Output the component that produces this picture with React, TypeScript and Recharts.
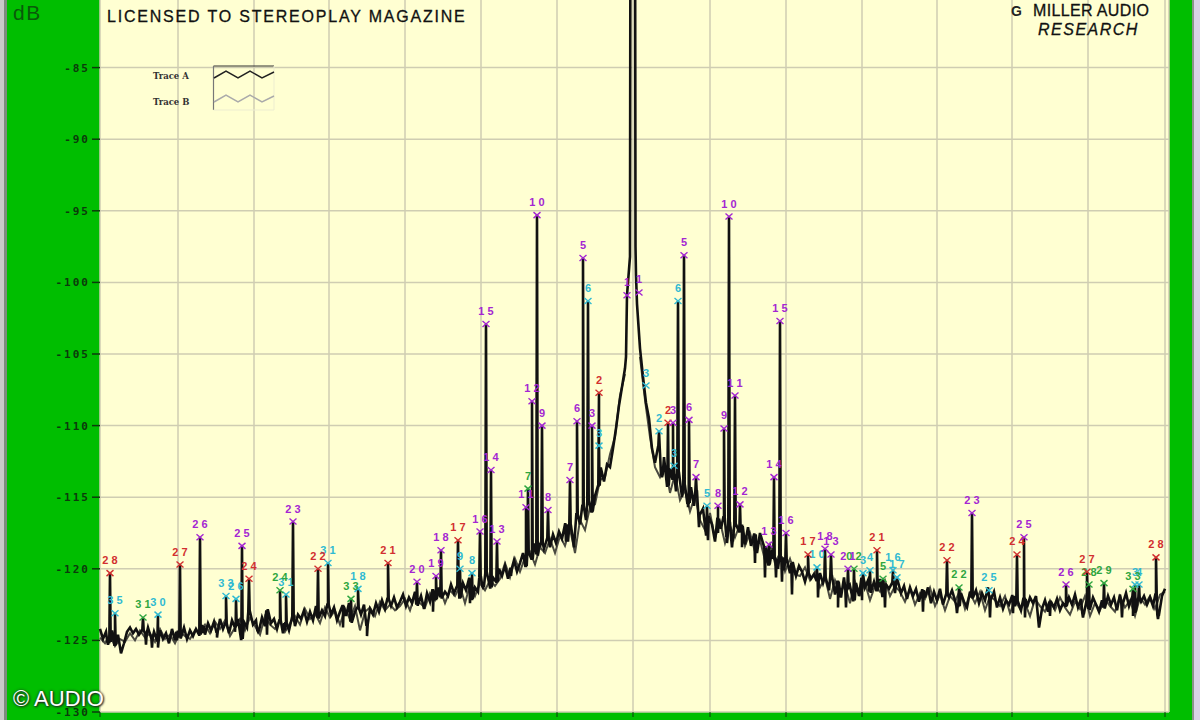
import {
  CartesianGrid,
  ComposedChart,
  Line,
  Scatter,
  XAxis,
  YAxis,
} from "recharts";

const GREEN = "#00BE00";
const PLOT = "#FFFFD2";
const GRID = "#CFCDB2";
const INK = "#0C3A0C";
const PURPLE = "#A426D2";
const RED = "#D22F2F";
const CYAN = "#2FBAD2";
const LEAF = "#2FA640";

const dbTicks = [-130, -125, -120, -115, -110, -105, -100, -95, -90, -85, -80];
const binTicks = [0, 78, 154, 229, 305, 381, 457, 533, 610, 686, 762, 837, 912, 988, 1065];

// noise floor, one reading every 3 bins, bin 0 to 525
const leftFloor = [
  -124.2, -124.9, -124.4, -125.1, -124.3, -125.3, -124.6, -125.9, -125.2, -124.4, -124.1, -124.5, -124.2, -124.6, -124.3, -124.5, -124.1,
  -124.8, -124.4, -125.0, -124.3, -124.9, -124.5, -125.2, -124.2, -125.0, -124.4, -124.8, -124.1, -124.9, -124.3, -124.7, -124.2, -124.6,
  -124.0, -124.6, -123.8, -124.3, -123.7, -124.4, -123.5, -124.2, -123.8, -124.5, -123.6, -124.0, -123.5, -124.9, -123.7, -124.1, -123.0,
  -123.9, -123.6, -124.3, -123.4, -124.0, -122.9, -123.8, -123.5, -124.2, -123.6, -124.5, -123.8, -124.3, -123.4, -124.0, -123.2,
  -123.5, -122.9, -123.7, -123.0, -123.6, -122.6, -123.4, -122.9, -123.3, -122.5, -123.2, -122.7, -123.6, -123.0, -122.6, -123.3, -122.4,
  -123.7, -123.0, -122.7, -123.2, -122.5, -123.9, -122.8, -123.2, -122.4, -123.0, -122.2, -122.8, -122.1, -122.6, -122.0, -122.7,
  -122.3, -121.8, -122.6, -122.0, -122.4, -121.6, -122.5, -121.9, -122.8, -121.7, -122.3, -121.5, -122.1, -121.3, -122.0, -121.6, -121.9,
  -121.1, -121.7, -121.2, -122.0, -121.0, -121.5, -120.7, -122.1, -121.3, -121.6, -120.6, -121.2, -120.3, -121.3, -120.6, -120.9,
  -120.0, -120.5, -119.8, -120.7, -120.0, -119.4, -120.2, -119.6, -118.9, -119.8, -118.9, -119.3, -118.3, -119.0, -118.2, -118.6, -117.9,
  -118.5, -117.6, -118.2, -117.4, -117.9, -116.9, -118.1, -117.0, -118.5, -116.2, -116.9, -115.6, -116.6, -115.3, -116.0, -114.9,
  -114.2, -113.0, -113.9, -112.7, -112.9, -111.6, -110.2, -108.6, -107.3, -106.0,
];

// carrier and its skirt
const carrierBins = [526, 527, 530, 530.5, 535, 535.5, 536];
const carrierDb = [-105.2, -100.9, -98.2, -70, -70, -97.5, -99.5];

// noise floor, one reading every 3 bins, bin 537 to 1065
const rightFloor = [
  -101.5, -104.6, -106.6, -108.4, -109.5, -111.6, -112.6, -111.5, -113.4, -112.2, -114.2, -113.0, -113.7, -114.6, -113.3, -115.0, -114.2,
  -115.4, -114.3, -115.6, -114.6,
  -116.2, -115.8, -117.6, -116.4, -116.9, -118.1, -116.5, -117.2, -116.4, -117.7, -116.8, -118.0, -116.9, -117.4, -117.0, -118.3, -117.1,
  -118.4, -117.6, -118.9, -117.5, -118.2, -118.5, -119.7, -118.7, -119.3, -120.0, -119.2, -120.1, -119.4, -120.3, -119.6, -120.5, -119.8,
  -120.2, -120.9, -120.3, -120.7, -120.4, -120.8, -120.3, -121.0, -120.7, -121.5, -120.5, -121.8, -120.9, -122.0, -120.6, -121.4, -121.2,
  -122.2, -121.0, -121.9, -120.7, -121.3, -120.8, -121.6, -120.9, -121.5, -120.7, -121.9, -121.1, -121.4, -121.0, -121.7, -120.9,
  -121.7, -121.2, -122.1, -121.3, -121.9, -121.4, -122.3, -121.5, -122.0, -121.3, -122.4, -121.6, -122.2, -121.4, -122.5, -121.8, -122.0,
  -121.5, -122.2, -122.6, -121.7, -122.3, -122.7, -121.6, -122.0, -121.5, -122.4, -121.7, -122.2, -121.3, -122.1, -121.6, -122.7,
  -122.0, -122.8, -122.2, -122.5, -121.9, -122.6, -122.3, -122.9, -122.1, -122.7, -122.0, -122.4, -121.9, -124.1, -122.8, -122.2, -123.0,
  -122.3, -122.7, -122.1, -122.9, -122.4, -122.6, -122.0, -122.5, -121.8, -122.7, -122.1, -123.1, -122.3, -122.8, -122.0, -122.5,
  -123.0, -122.2, -122.7, -121.9, -122.5, -122.0, -122.9, -121.8, -122.4, -121.7, -122.6, -122.0, -123.0, -122.1, -122.3, -121.9, -122.5,
  -122.0, -122.6, -121.8, -123.2, -121.9, -121.4,
];

// deepest dips of trace A
const dipBins = [
  8, 46, 52, 58, 77, 103, 117, 135, 158, 167, 185, 243, 267, 333, 370, 383, 411, 435, 440, 466, 479, 500,
  555, 562, 575, 588, 599, 608, 618, 627, 632, 642, 655, 665, 676, 682, 692, 718, 738, 746, 762, 785, 823,
  857, 890, 913, 925, 950, 983, 1022, 1033, 1058,
];
const dipDb = [
  -125.3, -125.3, -125.5, -125.5, -125.0, -124.5, -124.8, -124.4, -124.4, -124.6, -124.3, -124.1, -124.7, -123.0, -122.4, -121.3, -120.5, -118.5, -118.5, -118.1, -115.7, -113.8,
  -112.4, -113.6, -114.3, -115.7, -117.1, -118.0, -117.5, -118.2, -118.5, -118.5, -119.6, -120.6, -120.6, -120.9, -121.8, -122.0, -122.7, -122.7, -122.2, -122.7, -123.0,
  -123.1, -123.4, -123.1, -123.4, -123.3, -123.4, -123.4, -123.3, -123.5,
];

// trace B, mostly hidden under trace A, one reading every 5 bins
const traceBLeft = [
  -124.8, -125.2, -124.6, -125.4, -124.9, -125.1, -124.5, -125.0, -124.3, -124.8, -124.5, -125.1, -124.2, -124.9, -124.6, -125.2, -124.4, -124.7, -124.9, -124.3,
  -124.4, -123.9, -124.5, -123.7, -124.2, -123.6, -124.7, -124.1, -123.5, -124.3, -123.4, -124.0, -124.6, -123.3, -123.9, -124.2, -123.6, -124.4, -123.8, -123.3,
  -123.9, -122.8, -123.5, -123.1, -123.8, -122.7, -123.4, -122.9, -123.9, -122.8, -123.5, -122.6, -124.3, -123.0, -122.7, -123.3, -122.3, -122.9, -122.5, -122.9,
  -122.6, -122.1, -122.9, -121.8, -122.4, -122.7, -121.7, -122.2, -121.4, -122.4, -121.5, -121.9, -121.2, -122.4, -121.1, -121.9, -121.0, -121.5, -120.8, -121.2,
  -120.7, -119.6, -120.6, -119.3, -120.2, -119.2, -118.8, -119.7, -118.5, -118.9, -117.9, -118.9, -117.7, -118.4, -117.2, -118.9, -116.6, -117.3, -115.7, -115.5,
  -113.8, -113.6, -112.0, -110.8, -107.9, -106.4,
];
const traceBRight = [
  -105.2, -108.2, -110.8, -112.9, -113.6, -112.8, -114.7, -113.4, -115.2, -114.5, -116.0, -114.9,
  -116.6, -117.3, -116.1, -117.9, -116.7, -118.2, -117.0, -117.8, -116.9, -118.4, -117.5, -118.8, -118.0, -119.4, -118.3, -119.6, -118.9, -120.2, -119.3, -120.4,
  -120.5, -119.9, -120.8, -120.2, -121.3, -120.6, -122.1, -120.8, -121.7, -121.1, -122.4, -120.9, -121.8, -121.0, -122.2, -121.2, -121.6, -120.8, -121.9, -121.2,
  -121.6, -122.3, -121.4, -122.5, -121.7, -122.1, -121.3, -122.6, -121.8, -122.9, -121.9, -122.3, -121.5, -122.8, -121.7, -122.4, -121.6, -122.9, -121.9, -122.2,
  -122.6, -121.9, -123.1, -122.2, -122.8, -122.4, -123.3, -122.1, -122.6, -123.0, -122.2, -122.9, -122.0, -122.7, -123.2, -122.3, -122.8, -121.9, -123.3, -122.4,
  -122.9, -122.1, -122.6, -123.0, -121.9, -122.7, -122.2, -123.3, -122.0, -122.5, -121.9, -122.8, -121.8, -121.6,
];

type Mark = [number, number, string];

const purpleMarks: Mark[] = [
  [100, -117.8, "2 6"], [142, -118.4, "2 5"], [193, -116.7, "2 3"], [317, -120.9, "2 0"], [336, -120.5, "1 9"],
  [341, -118.7, "1 8"], [380, -117.4, "1 6"], [386, -102.9, "1 5"], [391, -113.1, "1 4"], [397, -118.1, "1 3"],
  [426, -115.7, "1 1"], [432, -108.3, "1 2"], [437, -95.3, "1 0"], [442, -110.0, "9"], [448, -115.9, "8"],
  [470, -113.8, "7"], [477, -109.7, "6"], [483, -98.3, "5"], [492, -110.0, "3"], [527, -100.9, "1"],
  [539, -100.7, "1"], [573, -109.8, "3"], [584, -98.1, "5"], [589, -109.6, "6"], [596, -113.6, "7"],
  [618, -115.6, "8"], [624, -110.2, "9"], [629, -95.4, "1 0"], [635, -107.9, "1 1"], [640, -115.5, "1 2"],
  [669, -118.3, "1 3"], [674, -113.6, "1 4"], [680, -102.7, "1 5"], [686, -117.5, "1 6"], [725, -118.6, "1 8"],
  [731, -119.0, "1 3"], [748, -120.0, "2 1"], [872, -116.1, "2 3"], [924, -117.8, "2 5"], [966, -121.1, "2 6"],
];

const redMarks: Mark[] = [
  [10, -120.3, "2 8"], [80, -119.7, "2 7"], [149, -120.7, "2 4"], [218, -120.0, "2 2"], [288, -119.6, "2 1"],
  [358, -118.0, "1 7"], [499, -107.7, "2"], [568, -109.8, "2"], [708, -119.0, "1 7"], [777, -118.7, "2 1"],
  [847, -119.4, "2 2"], [917, -119.0, "2 4"], [987, -120.2, "2 7"], [1056, -119.2, "2 8"],
];

const cyanMarks: Mark[] = [
  [15, -123.1, "3 5"], [58, -123.2, "3 0"], [126, -121.9, "3 3"], [136, -122.1, "2 6"], [186, -121.8, "3 1"],
  [228, -119.6, "3 1"], [258, -121.4, "1 8"], [360, -120.0, "9"], [372, -120.3, "8"], [488, -101.3, "6"],
  [499, -111.4, "3"], [546, -107.2, "3"], [559, -110.4, "2"], [574, -112.8, "3"], [578, -101.3, "6"],
  [607, -115.6, "5"], [717, -119.9, "1 0"], [763, -120.3, "3"], [770, -120.1, "4"], [793, -120.1, "1 6"],
  [797, -120.6, "1 7"], [889, -121.5, "2 5"], [1035, -121.1, "3"], [1039, -121.1, "4"],
];

const greenMarks: Mark[] = [
  [43, -123.4, "3 1"], [180, -121.5, "2 4"], [251, -122.1, "3 3"], [428, -114.4, "7"], [754, -120.0, "0 2"],
  [783, -120.7, "5"], [859, -121.3, "2 2"], [989, -121.1, "2 8"], [1004, -121.0, "2 9"], [1033, -121.4, "3 3"],
];

const markGroups = [
  { color: CYAN, marks: cyanMarks },
  { color: LEAF, marks: greenMarks },
  { color: RED, marks: redMarks },
  { color: PURPLE, marks: purpleMarks },
];

const allMarks = [...purpleMarks, ...redMarks, ...cyanMarks, ...greenMarks];

function floorAt(bin: number) {
  if (bin < 533) return leftFloor[Math.min(Math.round(bin / 3), leftFloor.length - 1)];
  return rightFloor[Math.max(0, Math.round((bin - 537) / 3))];
}

// floor readings plus a narrow spike under every marker and at every dip
function buildTrace() {
  const rows: { bin: number; db: number }[] = [];
  const spike = (bin: number, db: number) => {
    const foot = floorAt(bin);
    rows.push({ bin: bin - 0.7, db: foot });
    rows.push({ bin, db });
    rows.push({ bin: bin + 0.7, db: foot });
  };
  leftFloor.forEach((db, i) => rows.push({ bin: i * 3, db }));
  carrierBins.forEach((bin, i) => rows.push({ bin, db: carrierDb[i] }));
  rightFloor.forEach((db, i) => rows.push({ bin: 537 + i * 3, db }));
  allMarks.forEach(([bin, db]) => {
    if (Math.abs(bin - 533) < 20) return;
    if (db > floorAt(bin)) spike(bin, db);
  });
  dipBins.forEach((bin, i) => {
    if (dipDb[i] < floorAt(bin)) spike(bin, dipDb[i]);
  });
  return rows.sort((a, b) => a.bin - b.bin);
}

const traceRows = buildTrace();

// gap at the carrier, trace B is not drawn across it
const traceBRows = [
  ...traceBLeft.map((db, i) => ({ bin: i * 5, db: db as number | null })),
  { bin: 533, db: null },
  ...traceBRight.map((db, i) => ({ bin: 540 + i * 5, db: db as number | null })),
];

function markRows(marks: Mark[]) {
  return marks.map(([bin, db, label]) => ({ bin, db, label }));
}

function MarkShape(props: any) {
  const { cx, cy, payload, color } = props;
  return (
    <g stroke={color} fill="none">
      <path d={`M${cx - 3.5} ${cy - 3}L${cx + 3.5} ${cy + 3}M${cx + 3.5} ${cy - 3}L${cx - 3.5} ${cy + 3}`} strokeWidth={1.4} />
      <text
        x={cx}
        y={cy - 9}
        textAnchor="middle"
        fill={color}
        stroke="none"
        fontFamily="Liberation Sans"
        fontWeight="bold"
        fontSize={11}
      >
        {payload.label}
      </text>
    </g>
  );
}

function TraceKey() {
  const text = {
    position: "absolute" as const,
    left: 153,
    fontFamily: "DejaVu Serif",
    fontWeight: "bold" as const,
    fontSize: 8.5,
    color: "#333",
    lineHeight: "10px",
  };
  return (
    <>
      <div style={{ ...text, top: 71 }}>Trace A</div>
      <div style={{ ...text, top: 97 }}>Trace B</div>
      <svg style={{ position: "absolute", left: 210, top: 64 }} width={68} height={48}>
        <path d="M3.5 2H64" stroke="#333" strokeWidth={1.2} fill="none" />
        <path d="M3.5 2V46" stroke="#777" strokeWidth={1.2} fill="none" />
        <path d="M3.5 46H64V2" stroke="#EDEDD0" strokeWidth={1} fill="none" />
        <path d="M4 14L16 7L28 14L40 7L52 14L64 8" stroke="#222" strokeWidth={1.5} fill="none" />
        <path d="M4 38L16 31L28 38L40 31L52 38L64 32" stroke="#AAA" strokeWidth={1.5} fill="none" />
      </svg>
    </>
  );
}

export default function App() {
  const overlay = { position: "absolute" as const, fontFamily: "Liberation Sans", whiteSpace: "nowrap" as const };
  return (
    <div style={{ position: "fixed", left: 0, top: 0, width: 1200, height: 720, overflow: "hidden", background: GREEN }}>
      <div style={{ position: "absolute", left: 0, top: -20 }}>
        <ComposedChart
          width={1200}
          height={740}
          data={traceRows}
          margin={{ top: 16, right: 31, bottom: 0, left: 0 }}
        >
          <CartesianGrid stroke={GRID} strokeWidth={1.5} fill={PLOT} fillOpacity={1} />
          <XAxis
            dataKey="bin"
            type="number"
            domain={[0, 1069]}
            ticks={binTicks}
            height={8}
            axisLine={false}
            tick={{ fontSize: 0 }}
            tickFormatter={() => ""}
            tickLine={{ stroke: INK }}
            tickSize={5}
            interval={0}
          />
          <YAxis
            type="number"
            domain={[-130, -80]}
            ticks={dbTicks}
            width={100}
            allowDataOverflow
            axisLine={false}
            tickLine={{ stroke: INK, strokeWidth: 1.5 }}
            tickSize={8}
            tickMargin={2}
            interval={0}
            tick={{
              fill: INK,
              fontFamily: "DejaVu Sans Mono",
              fontWeight: "bold",
              fontSize: 11,
              letterSpacing: 2,
            }}
          />
          <Line
            dataKey="db"
            type="linear"
            name="Trace B"
            data={traceBRows}
            stroke="#4A4A40"
            strokeWidth={2}
            dot={false}
            connectNulls={false}
            isAnimationActive={false}
          />
          <Line
            dataKey="db"
            type="linear"
            name="Trace A"
            data={traceRows}
            stroke="#111"
            strokeWidth={2.6}
            dot={false}
            isAnimationActive={false}
          />
          {markGroups.map((g) => (
            <Scatter
              key={g.color}
              dataKey="db"
              data={markRows(g.marks)}
              isAnimationActive={false}
              shape={(p: any) => <MarkShape {...p} color={g.color} />}
            />
          ))}
        </ComposedChart>
      </div>

      <div style={{ position: "absolute", left: 0, top: 0, width: 4, height: 720, background: "#C9C9C9" }} />
      <div style={{ position: "absolute", left: 4, top: 0, width: 3, height: 720, background: "#7E8A7E" }} />
      <div style={{ position: "absolute", left: 1192, top: 0, width: 2, height: 720, background: "#8A948A" }} />
      <div style={{ position: "absolute", left: 1194, top: 0, width: 6, height: 720, background: "#D9D3E6" }} />

      <div style={{ ...overlay, left: 13, top: 1, fontSize: 21, letterSpacing: 1.5, color: "#0A5A0A" }}>dB</div>
      <div style={{ ...overlay, left: 107, top: 8, fontSize: 16, letterSpacing: 1.8, color: "#111", WebkitTextStroke: "0.3px #111" }}>
        LICENSED TO STEREOPLAY MAGAZINE
      </div>
      <div style={{ ...overlay, left: 1011, top: 3, fontSize: 14, fontWeight: "bold", color: "#222" }}>G</div>
      <div style={{ ...overlay, left: 1033, top: 2, fontSize: 16, letterSpacing: 0.35, color: "#111", WebkitTextStroke: "0.3px #111" }}>
        MILLER AUDIO
      </div>
      <div style={{ ...overlay, left: 1038, top: 21, fontSize: 16, fontStyle: "italic", letterSpacing: 1.5, color: "#111", WebkitTextStroke: "0.3px #111" }}>
        RESEARCH
      </div>
      <div
        style={{
          ...overlay,
          left: 13,
          top: 686,
          fontSize: 22,
          color: "#FFF",
          textShadow: "0 0 3px #222, 1px 1px 2px #222",
        }}
      >
        © AUDIO
      </div>
      <TraceKey />
    </div>
  );
}
